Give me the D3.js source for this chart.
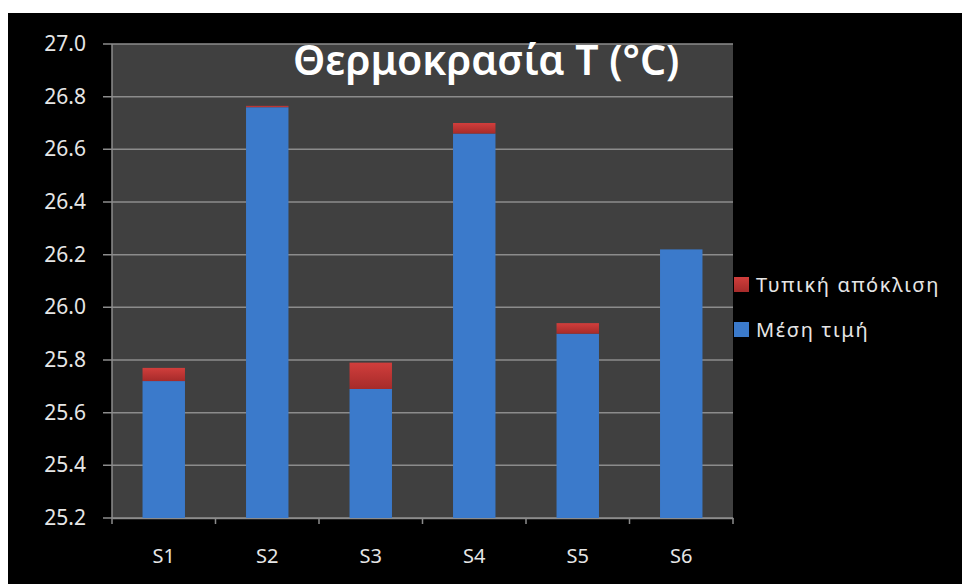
<!DOCTYPE html>
<html>
<head>
<meta charset="utf-8">
<script src="https://cdn.jsdelivr.net/npm/d3@7"></script>
<style>
  html, body { margin: 0; padding: 0; background: #fff; }
  svg { display: block; }
</style>
</head>
<body>
<svg id="chart" width="962" height="584"></svg>
<script>
// Temperature per station: mean value with standard deviation stacked on top
const stations = ["S1", "S2", "S3", "S4", "S5", "S6"];
const meanValues = [25.72, 26.76, 25.69, 26.66, 25.90, 26.22];
const stdValues = [0.05, 0.005, 0.10, 0.04, 0.04, 0.0];
const yTicks = [25.2, 25.4, 25.6, 25.8, 26.0, 26.2, 26.4, 26.6, 26.8, 27.0];
const seriesNames = ["Τυπική απόκλιση", "Μέση τιμή"];
const titleText = "Θερμοκρασία Τ (°C)";

const svg = d3.select("#chart");
const W = 962, H = 584;
const font = "'Noto Sans', 'Open Sans', sans-serif";

// black canvas inset from the top/left edge
svg.append("rect").attr("x", 8).attr("y", 13).attr("width", W - 8).attr("height", H - 13).attr("fill", "#000");

const plot = { left: 112, right: 733, top: 44, bottom: 518 };

const x = d3.scaleBand().domain(stations).range([plot.left, plot.right]).paddingInner(0.59).paddingOuter(0.295);
const y = d3.scaleLinear().domain([25.2, 27.0]).range([plot.bottom, plot.top]);

const defs = svg.append("defs");
const redGrad = defs.append("linearGradient").attr("id", "redGrad").attr("x1", 0).attr("y1", 0).attr("x2", 0).attr("y2", 1);
redGrad.append("stop").attr("offset", "0%").attr("stop-color", "#d13e3c");
redGrad.append("stop").attr("offset", "100%").attr("stop-color", "#a62b2a");

// plot area
svg.append("rect")
  .attr("x", plot.left).attr("y", plot.top)
  .attr("width", plot.right - plot.left).attr("height", plot.bottom - plot.top)
  .attr("fill", "#404040");

// gridlines
svg.append("g").selectAll("line").data(yTicks).join("line")
  .attr("x1", plot.left - 9).attr("x2", plot.right)
  .attr("y1", d => y(d)).attr("y2", d => y(d))
  .attr("stroke", "#8c8c8c").attr("stroke-width", 1.5);

// left axis line
svg.append("line")
  .attr("x1", plot.left).attr("x2", plot.left)
  .attr("y1", plot.top).attr("y2", plot.bottom)
  .attr("stroke", "#8c8c8c").attr("stroke-width", 1.5);

// y tick labels
svg.append("g").selectAll("text").data(yTicks).join("text")
  .attr("x", 86).attr("y", d => y(d) + 7)
  .attr("text-anchor", "end")
  .attr("fill", "#e6e6e6").attr("font-family", font).attr("font-size", 21)
  .text(d => d.toFixed(1));

// x axis with category labels
const xAxis = d3.axisBottom(x).tickSize(0).tickPadding(31).tickFormat(d => d);
const gx = svg.append("g").attr("transform", `translate(0,${plot.bottom})`).call(xAxis);
gx.select(".domain").attr("stroke", "#8c8c8c").attr("stroke-width", 1.5);
gx.selectAll("text").attr("fill", "#e6e6e6").attr("font-family", font).attr("font-size", 20);

// tick marks at the category boundaries
const edges = d3.range(stations.length + 1).map(i => plot.left + i * x.step());
svg.append("g").selectAll("line").data(edges).join("line")
  .attr("x1", d => d).attr("x2", d => d)
  .attr("y1", plot.bottom).attr("y2", plot.bottom + 6)
  .attr("stroke", "#8c8c8c").attr("stroke-width", 1.5);

// mean bars
svg.append("g").selectAll("rect").data(stations).join("rect")
  .attr("x", d => x(d)).attr("width", x.bandwidth())
  .attr("y", (d, i) => y(meanValues[i]))
  .attr("height", (d, i) => y(25.2) - y(meanValues[i]))
  .attr("fill", "#3b7acb");

// std deviation stacked on the mean
svg.append("g").selectAll("rect").data(stations).join("rect")
  .attr("x", d => x(d)).attr("width", x.bandwidth())
  .attr("y", (d, i) => y(meanValues[i] + stdValues[i]))
  .attr("height", (d, i) => y(meanValues[i]) - y(meanValues[i] + stdValues[i]))
  .attr("fill", "url(#redGrad)");

// title
svg.append("text")
  .attr("x", 293).attr("y", 75)
  .attr("fill", "#fff").attr("font-family", font).attr("font-weight", 600).attr("font-size", 41)
  .text(titleText);

// legend
const legendColors = ["url(#redGrad)", "#3b7acb"];
const lg = svg.append("g").selectAll("g").data(seriesNames).join("g")
  .attr("transform", (d, i) => `translate(734,${277 + i * 45})`);
lg.append("rect").attr("width", 15).attr("height", 15).attr("fill", (d, i) => legendColors[i]);
lg.append("text").attr("x", 22).attr("y", 15)
  .attr("fill", "#e6e6e6").attr("font-family", font).attr("font-size", 20)
  .attr("letter-spacing", 1.7)
  .text(d => d);
</script>
</body>
</html>
